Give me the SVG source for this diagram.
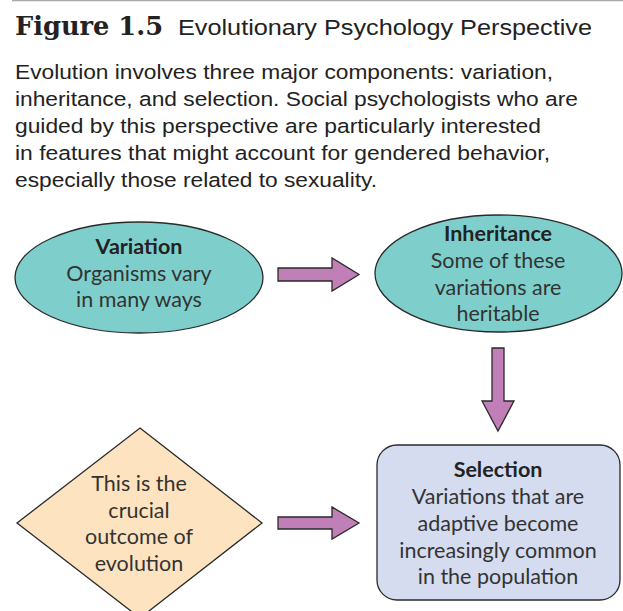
<svg xmlns="http://www.w3.org/2000/svg" width="623" height="611" viewBox="0 0 623 611">
<style>
.title{font-family:"DejaVu Serif","Liberation Serif",serif;font-weight:bold;font-size:26px;fill:#222}
.sub{font-family:"Liberation Sans",Arial,sans-serif;font-size:22px;fill:#222}
.body{font-family:"Liberation Sans",Arial,sans-serif;font-size:20.5px;fill:#222}
.nt{font-family:Lato,"Noto Sans",sans-serif;font-size:21.5px;fill:#333;text-anchor:middle}
.nb{font-weight:bold;fill:#222}
.node{stroke:#2a2a2a;stroke-width:1.3}
.arr{fill:#C17FB8;stroke:#2a2a2a;stroke-width:1.3;stroke-linejoin:miter}
</style>
<rect width="623" height="611" fill="#fff"/>
<line x1="12" y1="0.5" x2="623" y2="0.5" stroke="#aaa" stroke-width="1.5"/>
<text class="title" x="15" y="35" textLength="148" lengthAdjust="spacingAndGlyphs">Figure 1.5</text>
<text class="sub" x="178" y="35" textLength="414" lengthAdjust="spacingAndGlyphs">Evolutionary Psychology Perspective</text>
<g class="body">
<text x="15" y="79" textLength="538" lengthAdjust="spacingAndGlyphs">Evolution involves three major components: variation,</text>
<text x="15" y="106" textLength="563" lengthAdjust="spacingAndGlyphs">inheritance, and selection. Social psychologists who are</text>
<text x="15" y="133" textLength="526" lengthAdjust="spacingAndGlyphs">guided by this perspective are particularly interested</text>
<text x="15" y="160" textLength="535" lengthAdjust="spacingAndGlyphs">in features that might account for gendered behavior,</text>
<text x="15" y="187" textLength="362" lengthAdjust="spacingAndGlyphs">especially those related to sexuality.</text>
</g>
<g id="connectors">
<path class="arr" d="M278,268 H332 V258 L359,274.5 L332,291 V281 H278 Z"/>
<path class="arr" d="M492,348 H504 V401 H514 L498,431 L482,401 H492 Z"/>
<path class="arr" d="M278,517 H332 V507 L359,523 L332,539 V529 H278 Z"/>
</g>
<g id="variation">
<ellipse class="node" cx="139" cy="277.5" rx="124" ry="55.5" fill="#7ECFCC"/>
<text class="nt nb" x="139" y="254">Variation</text>
<text class="nt" x="139" y="281">Organisms vary</text>
<text class="nt" x="139" y="307">in many ways</text>
</g>
<g id="inheritance">
<ellipse class="node" cx="498.5" cy="273.5" rx="123.5" ry="58.5" fill="#7ECFCC"/>
<text class="nt nb" x="498" y="241">Inheritance</text>
<text class="nt" x="498" y="268">Some of these</text>
<text class="nt" x="498" y="295">variations are</text>
<text class="nt" x="498" y="321">heritable</text>
</g>
<g id="outcome">
<polygon class="node" points="140,428 262,523 140,618 17,523" fill="#FDE3C0"/>
<text class="nt" x="139" y="491">This is the</text>
<text class="nt" x="139" y="518">crucial</text>
<text class="nt" x="139" y="544">outcome of</text>
<text class="nt" x="139" y="571">evolution</text>
</g>
<g id="selection">
<rect class="node" x="377" y="445" width="243" height="155" rx="20" fill="#D5DCEF"/>
<text class="nt nb" x="498" y="477">Selection</text>
<text class="nt" x="498" y="504">Variations that are</text>
<text class="nt" x="498" y="531">adaptive become</text>
<text class="nt" x="498" y="558">increasingly common</text>
<text class="nt" x="498" y="584">in the population</text>
</g>
</svg>
